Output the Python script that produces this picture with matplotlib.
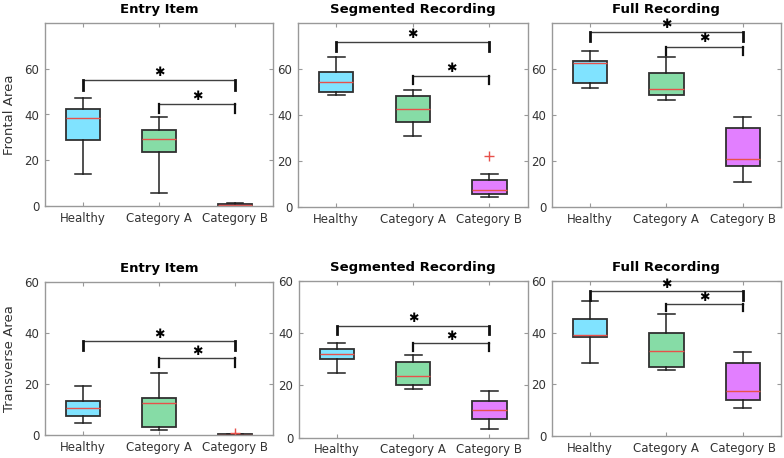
import matplotlib
matplotlib.use("Agg")
import matplotlib.pyplot as plt

plt.rcParams['font.family'] = ['DejaVu Sans']

groups = ["Healthy", "Category A", "Category B"]
colours = ["#80e3ff", "#86dca6", "#e27fff"]
titles = ["Entry Item", "Segmented Recording", "Full Recording"]
row_labels = ["Frontal Area", "Transverse Area"]

# box stats per panel: (whislo, q1, med, q3, whishi, fliers) for each group
frontal_entry = [(13.9, 28.7, 38.4, 42.3, 47.1, []),
                 (5.7, 23.7, 29.1, 33.1, 38.7, []),
                 (0.0, 0.1, 0.3, 0.9, 1.3, [])]
frontal_segmented = [(48.8, 49.9, 54.3, 58.8, 65.1, []),
                     (31.0, 37.1, 42.7, 48.4, 51.0, []),
                     (4.5, 5.8, 7.6, 11.7, 14.2, [22.0])]
frontal_full = [(51.6, 53.9, 62.4, 63.3, 68.0, []),
                (46.6, 48.8, 51.2, 58.1, 65.2, []),
                (10.9, 17.8, 20.7, 34.2, 39.1, [])]
transverse_entry = [(4.6, 7.5, 10.8, 13.4, 19.3, []),
                    (2.1, 3.2, 12.5, 14.6, 24.5, []),
                    (0.0, 0.1, 0.2, 0.4, 0.6, [0.9])]
transverse_segmented = [(24.6, 30.3, 31.9, 34.1, 36.3, []),
                        (18.5, 20.0, 23.8, 28.9, 31.5, []),
                        (3.4, 7.3, 10.6, 14.1, 17.8, [])]
transverse_full = [(28.4, 38.3, 39.0, 45.4, 52.4, []),
                   (25.4, 26.9, 32.8, 39.9, 47.3, []),
                   (10.9, 13.8, 17.4, 28.3, 32.4, [])]

# significance brackets: (big bracket y, big drop, small bracket y, small drop)
brackets_frontal = [(54.9, 50.8, 44.7, 40.8),
                    (71.6, 67.8, 57.0, 53.3),
                    (76.1, 72.2, 69.7, 66.0)]
brackets_transverse = [(37.0, 33.4, 30.1, 26.8),
                       (42.9, 39.6, 36.3, 33.1),
                       (56.1, 52.9, 51.3, 48.4)]

panels = [[frontal_entry, frontal_segmented, frontal_full],
          [transverse_entry, transverse_segmented, transverse_full]]
brackets = [brackets_frontal, brackets_transverse]
ylims = [(0, 80), (0, 60)]

# axes rectangles in figure fractions
rects = [[(0.0574, 0.550, 0.291, 0.400), (0.380, 0.548, 0.293, 0.402), (0.704, 0.548, 0.292, 0.402)],
         [(0.0574, 0.050, 0.291, 0.334), (0.381, 0.044, 0.292, 0.343), (0.704, 0.048, 0.292, 0.338)]]

fig = plt.figure(figsize=(7.84, 4.58), dpi=100)

for r in range(2):
    for c in range(3):
        ax = fig.add_axes(rects[r][c])
        stats = []
        for g, s in zip(groups, panels[r][c]):
            stats.append(dict(label=g, whislo=s[0], q1=s[1], med=s[2], q3=s[3],
                              whishi=s[4], fliers=s[5]))
        bp = ax.bxp(stats, positions=[1, 2, 3], widths=0.45, capwidths=0.22,
                    patch_artist=True,
                    boxprops=dict(edgecolor="#303030", linewidth=1.3),
                    whiskerprops=dict(color="#202020", linewidth=1.1),
                    capprops=dict(color="#202020", linewidth=1.1),
                    medianprops=dict(color="#e8504a", linewidth=1.0),
                    flierprops=dict(marker="+", markeredgecolor="#e8504a",
                                    markersize=7, linestyle="none"))
        for patch, col in zip(bp["boxes"], colours):
            patch.set_facecolor(col)

        # significance brackets
        by, bd, sy, sd = brackets[r][c]
        ax.plot([1, 3], [by, by], color="#404040", lw=1.0)
        ax.plot([1, 1], [by, bd], color="#101010", lw=2.0)
        ax.plot([3, 3], [by, bd], color="#101010", lw=2.0)
        ax.plot([2, 3], [sy, sy], color="#404040", lw=1.0)
        ax.plot([2, 2], [sy, sd], color="#101010", lw=1.6)
        ax.plot([3, 3], [sy, sd], color="#101010", lw=1.6)
        span = ylims[r][1] - ylims[r][0]
        ax.text(2, by + 0.042 * span, "\u2731", ha="center", va="center",
                fontsize=9, color="black", clip_on=False)
        ax.text(2.5, sy + 0.042 * span, "\u2731", ha="center", va="center",
                fontsize=9, color="black", clip_on=False)

        ax.set_xlim(0.5, 3.5)
        ax.set_ylim(*ylims[r])
        ax.set_yticks([0, 20, 40, 60])
        ax.set_xticks([1, 2, 3])
        ax.set_xticklabels(groups)
        ax.tick_params(direction="in", top=True, right=True, length=3,
                       color="#999999", labelsize=8.5, labelcolor="#333333", pad=4)
        for sp in ax.spines.values():
            sp.set_color("#999999")
            sp.set_linewidth(1.0)
        ax.set_title(titles[c], fontsize=9.5, fontweight="bold", pad=7)
        if c == 0:
            ax.set_ylabel(row_labels[r], fontsize=9.5, color="#333333", labelpad=6)

fig.savefig("out.png", dpi=100)
